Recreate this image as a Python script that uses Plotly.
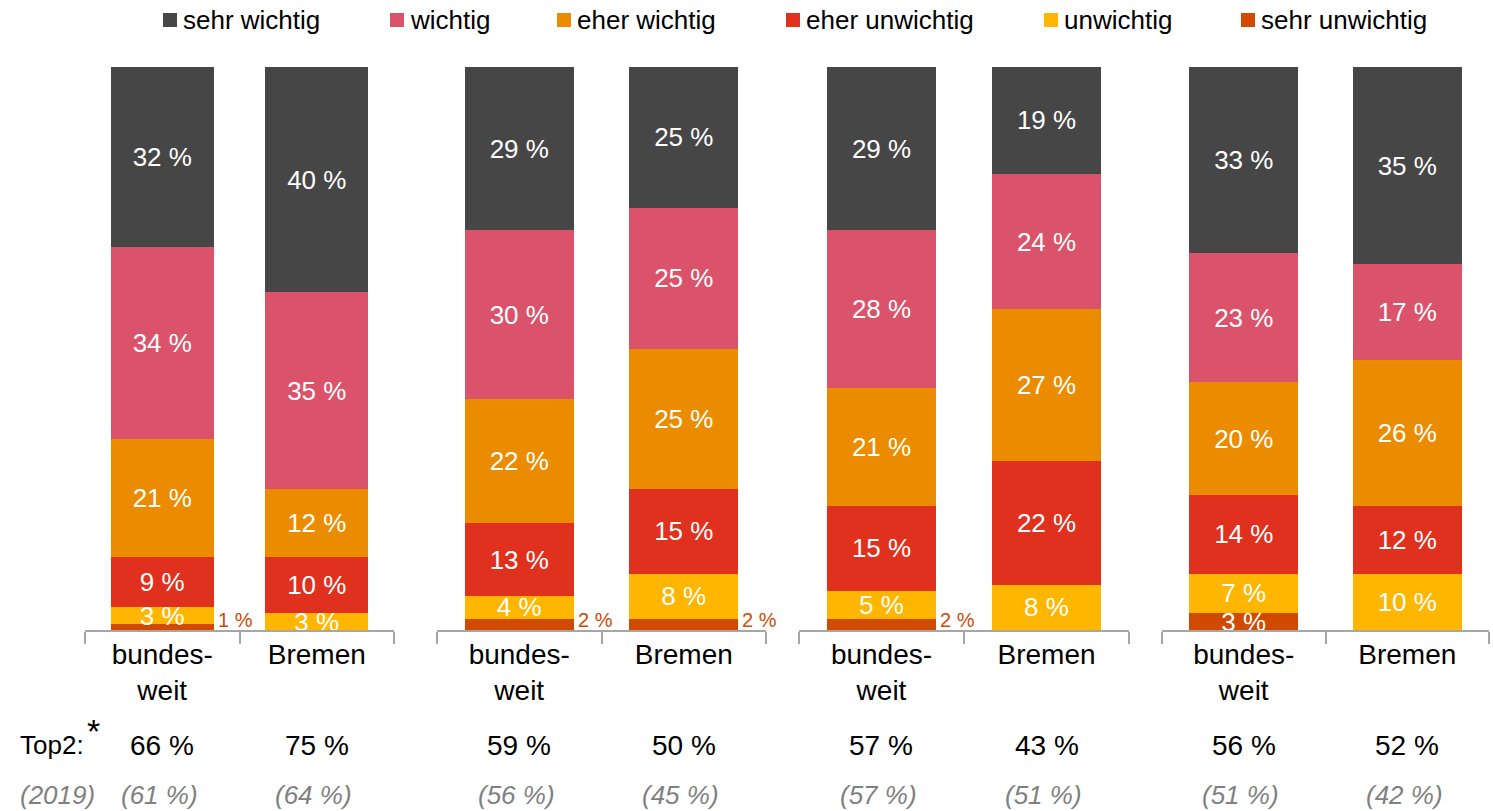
import plotly.graph_objects as go

# ---- data -----------------------------------------------------------------
regions = ["bundes-<br>weit", "Bremen"]
n_groups = 4

# shares per bar (4 groups x [bundesweit, Bremen]), in percent
sehr_wichtig   = [32, 40, 29, 25, 29, 19, 33, 35]
wichtig        = [34, 35, 30, 25, 28, 24, 23, 17]
eher_wichtig   = [21, 12, 22, 25, 21, 27, 20, 26]
eher_unwichtig = [9, 10, 13, 15, 15, 22, 14, 12]
unwichtig      = [3, 3, 4, 8, 5, 8, 7, 10]
sehr_unwichtig = [1, 0, 2, 2, 2, 0, 3, 0]

top2_2019 = [61, 64, 56, 45, 57, 51, 51, 42]

# stacking order, bottom to top
series = [
    ("sehr unwichtig", sehr_unwichtig, "#D04A02"),
    ("unwichtig", unwichtig, "#FFB600"),
    ("eher unwichtig", eher_unwichtig, "#E0301E"),
    ("eher wichtig", eher_wichtig, "#EB8C00"),
    ("wichtig", wichtig, "#DB536A"),
    ("sehr wichtig", sehr_wichtig, "#464646"),
]

top2 = [a + b for a, b in zip(sehr_wichtig, wichtig)]

# ---- layout constants -----------------------------------------------------
W, H = 1493, 811
PLOT_TOP, PLOT_BOTTOM = 67, 630
FONT = "Liberation Sans, Arial, sans-serif"
AXIS_GREY = "#A6A6A6"
BARGAP = 0.335
group_spans = [(85, 394), (437, 766), (799, 1129), (1162, 1489)]  # px


def px(x):
    return x / W


def py(y):
    return (PLOT_BOTTOM - y) / (PLOT_BOTTOM - PLOT_TOP)


fig = go.Figure()

for g in range(n_groups):
    sfx = "" if g == 0 else str(g + 1)
    for name, vals, color in series:
        v = vals[2 * g: 2 * g + 2]
        fig.add_trace(go.Bar(
            x=regions, y=v,
            xaxis="x" + sfx, yaxis="y" + sfx,
            name=name, showlegend=False,
            marker=dict(color=color, line=dict(width=0)),
            text=[f"{val} %" if val >= 3 else "" for val in v],
            textposition="inside", insidetextanchor="middle",
            constraintext="none", textangle=0,
            textfont=dict(family=FONT, size=26, color="white"),
            hoverinfo="skip",
        ))
        # very small segments are labelled next to the bar
        if name == "sehr unwichtig":
            for i, val in enumerate(v):
                if 0 < val < 3:
                    fig.add_annotation(
                        x=i + (1 - BARGAP) / 2, y=0,
                        xref="x" + sfx, yref="y" + sfx,
                        text=f"{val} %", showarrow=False,
                        xanchor="left", yanchor="bottom", xshift=2, yshift=-3,
                        font=dict(family=FONT, size=20, color="#D04A02"),
                    )
    # Top2 and 2019 comparison rows
    for i in range(2):
        k = 2 * g + i
        fig.add_annotation(
            x=i, y=py(745), xref="x" + sfx, yref="paper",
            text=f"{top2[k]} %", showarrow=False,
            xanchor="center", yanchor="middle",
            font=dict(family=FONT, size=28, color="black"),
        )
        fig.add_annotation(
            x=i, y=py(795), xref="x" + sfx, yref="paper",
            text=f"<i>({top2_2019[k]} %)</i>", showarrow=False,
            xanchor="center", yanchor="middle", xshift=-3,
            font=dict(family=FONT, size=26, color="#808080"),
        )

    x0, x1 = group_spans[g]
    fig.layout["xaxis" + sfx] = dict(
        domain=[px(x0), px(x1)], anchor="y" + sfx,
        type="category", range=[-0.5, 1.5],
        showline=True, linecolor=AXIS_GREY, linewidth=2,
        ticks="outside", tickson="boundaries", ticklen=12,
        tickwidth=2, tickcolor=AXIS_GREY,
        ticklabelstandoff=-2,
        tickfont=dict(family=FONT, size=28, color="black"),
        showgrid=False, zeroline=False, fixedrange=True,
    )
    fig.layout["yaxis" + sfx] = dict(
        domain=[0, 1], anchor="x" + sfx, range=[0, 100],
        visible=False, showgrid=False, zeroline=False, fixedrange=True,
    )

# row captions
fig.add_annotation(
    x=px(18), y=py(745), xref="paper", yref="paper",
    text="Top2:", showarrow=False, xanchor="left", yanchor="middle",
    font=dict(family=FONT, size=26, color="black"),
)
fig.add_annotation(
    x=px(85), y=py(731), xref="paper", yref="paper",
    text="*", showarrow=False, xanchor="left", yanchor="middle",
    font=dict(family=FONT, size=34, color="black"),
)
fig.add_annotation(
    x=px(18), y=py(795), xref="paper", yref="paper",
    text="<i>(2019)</i>", showarrow=False, xanchor="left", yanchor="middle",
    font=dict(family=FONT, size=26, color="#808080"),
)

# legend row (top to bottom order of the stack)
legend_left = [163, 390, 557, 786, 1044, 1241]
for (name, _, color), lx in zip(reversed(series), legend_left):
    fig.add_shape(
        type="rect", xref="paper", yref="paper",
        x0=px(lx), x1=px(lx + 14), y0=py(27), y1=py(13),
        fillcolor=color, line=dict(width=0),
    )
    fig.add_annotation(
        x=px(lx + 18), y=py(20), xref="paper", yref="paper",
        text=name, showarrow=False, xanchor="left", yanchor="middle",
        font=dict(family=FONT, size=26, color="black"),
    )

fig.update_layout(
    width=W, height=H,
    margin=dict(l=0, r=0, t=PLOT_TOP, b=H - PLOT_BOTTOM, pad=0),
    barmode="stack", bargap=BARGAP,
    paper_bgcolor="white", plot_bgcolor="white",
    font=dict(family=FONT),
)

fig.write_html("out.html")
